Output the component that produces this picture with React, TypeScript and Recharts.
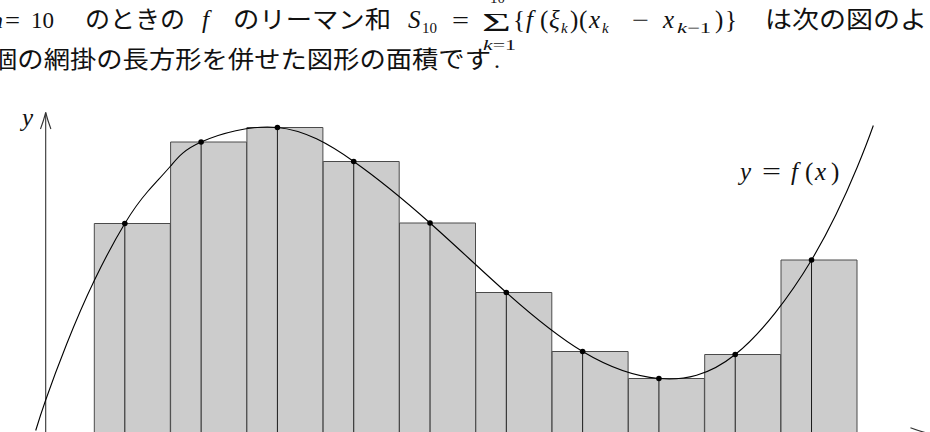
import React from 'react';
import { ComposedChart, Bar, Line, Scatter, XAxis, YAxis, ReferenceLine } from 'recharts';

// Subintervals [x_{k-1}, x_k] of the partition, k = 1..10
const partitionLabels = ['1', '2', '3', '4', '5', '6', '7', '8', '9', '10'];
// Sample points ξ_k taken inside each subinterval
const samplePoints = [0.4, 1.4, 2.4, 3.4, 4.4, 5.4, 6.4, 7.4, 8.4, 9.4];
// f(ξ_k): heights of the shaded rectangles
const sampleValues = [4.19, 5.82, 6.11, 5.43, 4.2, 2.81, 1.63, 1.09, 1.57, 3.46];
// Points traced along y = f(x)
const curveXs = [-0.768, -0.637, -0.362, 0, 0.4, 0.7, 1.0, 1.4, 2.4, 3.4, 4.4, 5.4, 6.4, 7.4, 8.4, 9.4, 10.0, 10.21];
const curveYs = [0.05, 0.66, 1.78, 3.05, 4.19, 4.83, 5.34, 5.82, 6.11, 5.43, 4.2, 2.81, 1.63, 1.09, 1.57, 3.46, 5.32, 6.15];

// Coordinate axes
const yAxisAt = -0.637;
const yAxisTop = 6.41;
const xAxisFrom = -1.2;
const xAxisTo = 10.913;

const X_DOMAIN: [number, number] = [-1.2359, 10.9528];
const Y_DOMAIN: [number, number] = [0, 8.66];

const barData = partitionLabels.map((k, i) => ({ k, h: sampleValues[i] }));
const samples = samplePoints.map((x, i) => ({ x, y: sampleValues[i] }));
const curveData = curveXs.map((x, i) => ({ x, y: curveYs[i] }));

const MATH = "'Liberation Serif', 'DejaVu Serif', serif";
const JP = "'Noto Sans CJK JP', 'Noto Sans CJK SC', sans-serif";
const INK = '#111';

// Axis line ending in an open arrowhead
const Arrow = (p: any) => {
  const { x1, y1, x2, y2 } = p;
  const a = Math.atan2(y2 - y1, x2 - x1);
  const c = Math.cos(a);
  const s = Math.sin(a);
  const L = 16.5;
  const W = 5.2;
  const bx = x2 - L * c;
  const by = y2 - L * s;
  const nx = -s;
  const ny = c;
  const q = x2 - L * 0.5 * c;
  const r = y2 - L * 0.5 * s;
  const d =
    `M${bx + W * nx},${by + W * ny} Q${q + W * 0.4 * nx},${r + W * 0.4 * ny} ${x2},${y2} ` +
    `Q${q - W * 0.4 * nx},${r - W * 0.4 * ny} ${bx - W * nx},${by - W * ny}`;
  return (
    <g>
      <line x1={x1} y1={y1} x2={x2} y2={y2} stroke="#333" strokeWidth={1.1} />
      <path d={d} fill="none" stroke="#333" strokeWidth={1.1} />
    </g>
  );
};

const SampleDot = (p: any) => <circle cx={p.cx} cy={p.cy} r={2.8} fill="#000" />;

type TProps = {
  x: number;
  y: number;
  size?: number;
  it?: boolean;
  w?: number;
  font?: string;
  children: React.ReactNode;
};

const T = ({ x, y, size = 24, it = false, w, font = MATH, children }: TProps) => (
  <text
    x={x}
    y={y}
    fontSize={size}
    fontFamily={font}
    fontStyle={it ? 'italic' : 'normal'}
    fill={INK}
    textLength={w}
    lengthAdjust={w ? 'spacingAndGlyphs' : undefined}
  >
    {children}
  </text>
);

const Caption = () => (
  <svg
    width={930}
    height={432}
    style={{ position: 'absolute', left: 0, top: 0, pointerEvents: 'none' }}
  >
    {/* first line */}
    <T x={-9} y={28} it>n</T>
    <T x={5} y={28} w={15}>=</T>
    <T x={31} y={28} w={23}>10</T>
    <T x={85} y={28} font={JP} w={100}>のときの</T>
    <T x={202} y={28} it size={25}>f</T>
    <T x={233} y={28} font={JP} w={158}>のリーマン和</T>
    <T x={408} y={28} it size={25}>S</T>
    <T x={422} y={33} size={15}>10</T>
    <T x={452} y={28} w={17}>=</T>
    <T x={482} y={31} size={26} w={29}>Σ</T>
    <T x={490} y={3} size={15}>10</T>
    <T x={483} y={50} size={15} w={33}>
      <tspan fontStyle="italic">k</tspan>=1
    </T>
    <T x={513} y={28} size={25}>{'{'}</T>
    <T x={526} y={28} size={25} it>f</T>
    <T x={540} y={28} size={25}>(</T>
    <T x={549} y={28} size={25} it>ξ</T>
    <T x={561} y={33} size={15} it>k</T>
    <T x={570} y={28} size={25}>)</T>
    <T x={579} y={28} size={25}>(</T>
    <T x={589} y={28} size={25} it>x</T>
    <T x={602} y={33} size={15} it>k</T>
    <T x={632} y={28} w={17}>−</T>
    <T x={663} y={28} size={25} it>x</T>
    <T x={677} y={33} size={15} w={34}>
      <tspan fontStyle="italic">k</tspan>−1
    </T>
    <T x={715} y={28} size={25}>)</T>
    <T x={725} y={28} size={25}>{'}'}</T>
    <T x={765} y={28} font={JP} w={162}>は次の図のよ</T>
    {/* second line */}
    <T x={-9} y={68} font={JP} w={500}>個の網掛の長方形を併せた図形の面積です</T>
    <T x={494} y={68}>.</T>
    {/* axis and curve labels */}
    <T x={22} y={126} size={25} it>y</T>
    <T x={740} y={180} size={25} it>y</T>
    <T x={762} y={180} size={25} w={19}>=</T>
    <T x={791} y={180} size={25} it>f</T>
    <T x={805} y={180} size={25}>(</T>
    <T x={815} y={180} size={25} it>x</T>
    <T x={831} y={180} size={25}>)</T>
  </svg>
);

export default function App() {
  return (
    <div
      style={{
        position: 'absolute',
        left: 0,
        top: 0,
        width: 930,
        height: 432,
        overflow: 'hidden',
        background: '#fff',
      }}
    >
      <ComposedChart
        width={930}
        height={440}
        data={barData}
        margin={{ top: 0, right: 0, bottom: 7, left: 0 }}
        barCategoryGap={0}
        barGap={0}
      >
        <XAxis xAxisId="cat" dataKey="k" type="category" hide padding={{ left: 94.3, right: 72.7 }} />
        <XAxis xAxisId="num" dataKey="x" type="number" domain={X_DOMAIN} allowDataOverflow hide />
        <YAxis type="number" domain={Y_DOMAIN} allowDataOverflow hide />
        <Bar
          xAxisId="cat"
          dataKey="h"
          fill="#cccccc"
          stroke="#4a4a4a"
          strokeWidth={1}
          isAnimationActive={false}
        />
        {samples.map((s) => (
          <ReferenceLine
            key={`s${s.x}`}
            xAxisId="num"
            segment={[
              { x: s.x, y: 0 },
              { x: s.x, y: s.y },
            ]}
            stroke="#1a1a1a"
            strokeWidth={1}
          />
        ))}
        <ReferenceLine
          xAxisId="num"
          segment={[
            { x: yAxisAt, y: 0 },
            { x: yAxisAt, y: yAxisTop },
          ]}
          shape={Arrow}
        />
        <ReferenceLine
          xAxisId="num"
          segment={[
            { x: xAxisFrom, y: 0 },
            { x: xAxisTo, y: 0 },
          ]}
          shape={Arrow}
        />
        <Line
          xAxisId="num"
          data={curveData}
          dataKey="y"
          type="natural"
          stroke="#000"
          strokeWidth={1.1}
          dot={false}
          activeDot={false}
          isAnimationActive={false}
        />
        <Scatter xAxisId="num" data={samples} dataKey="y" shape={SampleDot} isAnimationActive={false} />
      </ComposedChart>
      <Caption />
    </div>
  );
}
